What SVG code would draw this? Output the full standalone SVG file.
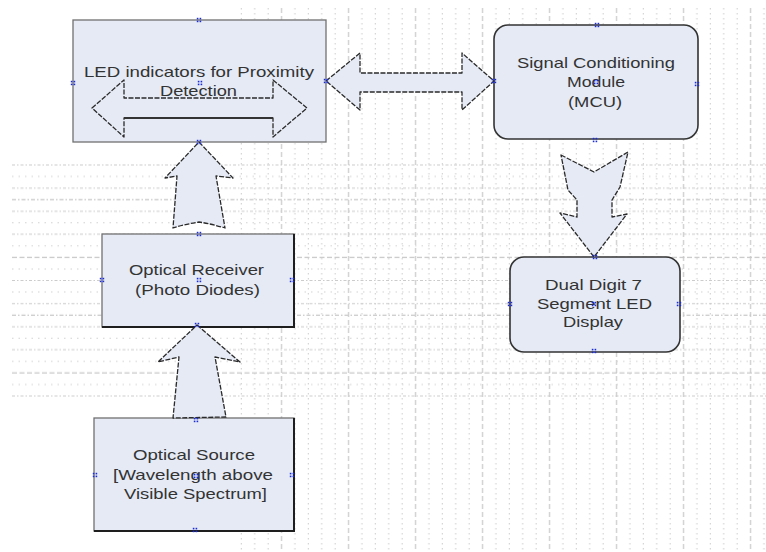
<svg xmlns="http://www.w3.org/2000/svg" xmlns:xlink="http://www.w3.org/1999/xlink" width="766" height="552" viewBox="0 0 766 552">
<style>
.box{fill:#e5eaf5;stroke:#707070;stroke-width:1.3}
.rbox{fill:#e5eaf5;stroke:#333;stroke-width:1.6}
.edge{stroke:#1e1e1e;stroke-width:2;fill:none}
.arr{fill:#e5eaf5;stroke:#2a2a2a;stroke-width:1.3;stroke-dasharray:5 1.5;stroke-linejoin:round}
.inner{fill:none;stroke:#2a2a2a;stroke-width:1.3;stroke-linejoin:round}
text{font-family:"Liberation Sans",Arial,sans-serif;font-size:15px;fill:#333333}
.gv{stroke:#cccccc;stroke-width:1;stroke-dasharray:1.5 3.5}
.gvm{stroke:#c8c8c8;stroke-width:1.2;stroke-dasharray:5 3}
.gh{stroke:#cccccc;stroke-width:1;stroke-dasharray:3 2 1.5 2}
.ghs{stroke:#d2d2d2;stroke-width:1;stroke-dasharray:1.5 5}
.ghm{stroke:#c8c8c8;stroke-width:1.2;stroke-dasharray:5 2.5}
.cp{fill:#1a2bd8}
</style>
<defs>
<pattern id="vgrid" patternUnits="userSpaceOnUse" x="240.8" y="8" width="67" height="544">
<line class="gv" x1="0.5" y1="0" x2="0.5" y2="544"/>
<line class="gv" x1="13.9" y1="0" x2="13.9" y2="544"/>
<line class="gv" x1="27.3" y1="0" x2="27.3" y2="544"/>
<line class="gvm" x1="40.7" y1="0" x2="40.7" y2="544"/>
<line class="gv" x1="54.1" y1="0" x2="54.1" y2="544"/>
</pattern>
<pattern id="hgrid" patternUnits="userSpaceOnUse" x="12" y="164.5" width="766" height="115.5">
<line class="gh" x1="0" y1="0.5" x2="766" y2="0.5"/>
<line class="ghs" x1="0" y1="12.05" x2="766" y2="12.05"/>
<line class="gh" x1="0" y1="23.6" x2="766" y2="23.6"/>
<line class="ghm" x1="0" y1="35.15" x2="766" y2="35.15" style="stroke-dasharray:4 2 1.5 2"/>
<line class="gh" x1="0" y1="46.7" x2="766" y2="46.7"/>
<line class="ghs" x1="0" y1="58.25" x2="766" y2="58.25"/>
<line class="gh" x1="0" y1="69.8" x2="766" y2="69.8"/>
<line class="ghs" x1="0" y1="81.35" x2="766" y2="81.35"/>
<line class="ghm" x1="0" y1="92.9" x2="766" y2="92.9"/>
<line class="ghs" x1="0" y1="104.45" x2="766" y2="104.45"/>
</pattern>
<g id="m" class="cp">
<rect x="-2.2" y="-2.2" width="1.6" height="1.6"/>
<rect x="0.6" y="-2.2" width="1.6" height="1.6"/>
<rect x="-2.2" y="0.6" width="1.6" height="1.6"/>
<rect x="0.6" y="0.6" width="1.6" height="1.6"/>
</g>
</defs>
<rect x="0" y="0" width="766" height="552" fill="#ffffff"/>
<g id="grid">
<rect x="240" y="8" width="526" height="544" fill="url(#vgrid)"/>
<rect x="12" y="164" width="754" height="234" fill="url(#hgrid)"/>
</g>

<g id="led">
<rect class="box" x="73" y="20" width="253" height="122"/>
<path class="inner" d="M92,108 L124,80 L124,98 L273,98 L273,80 L307,108 L273,137 L273,118 L124,118 L124,137 Z" stroke-dasharray="5 1.5"/>
<line x1="124" y1="118" x2="273" y2="118" stroke="#333" stroke-width="2.2"/>
<text x="84" y="77" textLength="230" lengthAdjust="spacingAndGlyphs">LED indicators for Proximity</text>
<text x="160" y="96" textLength="77" lengthAdjust="spacingAndGlyphs">Detection</text>
</g>

<g id="signal">
<rect class="rbox" x="494" y="25" width="204" height="114" rx="14"/>
<text x="517" y="68" textLength="158" lengthAdjust="spacingAndGlyphs">Signal Conditioning</text>
<text x="567" y="87" textLength="58" lengthAdjust="spacingAndGlyphs">Module</text>
<text x="568" y="107" textLength="54" lengthAdjust="spacingAndGlyphs">(MCU)</text>
</g>

<g id="display">
<rect class="rbox" x="510" y="257" width="170" height="95" rx="14"/>
<text x="545" y="290" textLength="97" lengthAdjust="spacingAndGlyphs">Dual Digit 7</text>
<text x="537" y="309" textLength="115" lengthAdjust="spacingAndGlyphs">Segment LED</text>
<text x="563" y="327" textLength="60" lengthAdjust="spacingAndGlyphs">Display</text>
</g>

<g id="receiver">
<rect class="box" x="102" y="234" width="192" height="93"/>
<path class="edge" d="M294,234 V327 H102"/>
<text x="129" y="275" textLength="135" lengthAdjust="spacingAndGlyphs">Optical Receiver</text>
<text x="135" y="295" textLength="125" lengthAdjust="spacingAndGlyphs">(Photo Diodes)</text>
</g>

<g id="source">
<rect class="box" x="94" y="418" width="200" height="113"/>
<path class="edge" d="M294,418 V531 H94"/>
<text x="133" y="460" textLength="122" lengthAdjust="spacingAndGlyphs">Optical Source</text>
<text x="113" y="480" textLength="160" lengthAdjust="spacingAndGlyphs">[Wavelength above</text>
<text x="124" y="499" textLength="143" lengthAdjust="spacingAndGlyphs">Visible Spectrum]</text>
</g>

<g id="connectors">
<path class="arr" d="M326,81 L360,53 L360,73 L462,73 L462,53 L494,81 L462,110 L462,92 L360,92 L360,110 Z"/>
<path class="arr" d="M561,155 L594,172 L628,152 L620,187 L612,200 L612,217 L627,214 L594,257 L560,213 L577,217 L577,200 L568,190 Z"/>
<path class="arr" d="M199,142 L233,178 L216,176 L225,228 Q212,224 199,222 Q186,224 173,228 L177,176 L165,178 Z"/>
<path class="arr" d="M197,325 L240,362 L215,357 L226,417 L173,418 L179,357 L158,362 Z"/>
</g>

<g id="handles">
<use xlink:href="#m" x="199" y="20"/>
<use xlink:href="#m" x="73" y="83"/>
<use xlink:href="#m" x="200" y="83"/>
<use xlink:href="#m" x="326" y="81"/>
<use xlink:href="#m" x="199" y="142"/>
<use xlink:href="#m" x="597" y="25"/>
<use xlink:href="#m" x="494" y="81"/>
<use xlink:href="#m" x="596" y="82"/>
<use xlink:href="#m" x="697" y="84"/>
<use xlink:href="#m" x="595" y="140"/>
<use xlink:href="#m" x="595" y="257"/>
<use xlink:href="#m" x="510" y="304"/>
<use xlink:href="#m" x="594" y="304"/>
<use xlink:href="#m" x="679" y="304"/>
<use xlink:href="#m" x="594" y="351"/>
<use xlink:href="#m" x="199" y="234"/>
<use xlink:href="#m" x="102" y="280"/>
<use xlink:href="#m" x="199" y="280"/>
<use xlink:href="#m" x="292" y="280"/>
<use xlink:href="#m" x="197" y="325"/>
<use xlink:href="#m" x="196" y="420"/>
<use xlink:href="#m" x="95" y="475"/>
<use xlink:href="#m" x="196" y="476"/>
<use xlink:href="#m" x="292" y="475"/>
<use xlink:href="#m" x="195" y="530"/>
</g>
</svg>
